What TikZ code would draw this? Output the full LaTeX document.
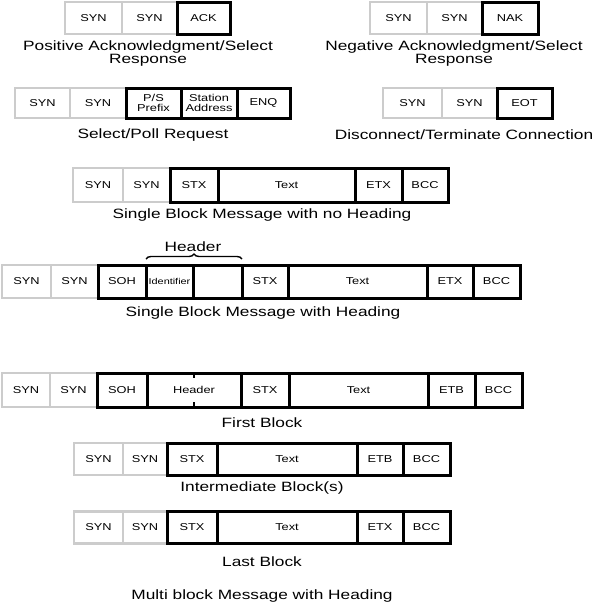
\documentclass[tikz,border=0pt]{standalone}
\usepackage{fontspec}
\setmainfont[FakeStretch=1.28]{Liberation Sans}
\usetikzlibrary{positioning,decorations.pathreplacing}
\definecolor{SynGray}{HTML}{CCCCCC}

\begin{document}
\begin{tikzpicture}[x=1pt,y=-1pt,
        cell/.style={minimum height=32pt,inner sep=0pt,outer sep=0pt,
                     font=\fontsize{10}{11}\selectfont},
        syn/.style={cell,draw=SynGray,line width=2.5pt},
        fld/.style={cell,draw=black,line width=3pt},
        twoline/.style={font=\fontsize{10}{10.5}\selectfont,align=center},
        small/.style={font=\fontsize{8.5}{10}\selectfont},
        caption/.style={font=\fontsize{13.5}{13}\selectfont,align=center,inner sep=0pt},
        hbrace/.style={decorate,decoration={brace,amplitude=5pt},line width=1.4pt}]
        \useasboundingbox (0,0) rectangle (600,603);
        % positive acknowledgment
        \node[syn,minimum width=57pt,anchor=west] (ack1) at (65,18) {SYN};
        \node[syn,minimum width=55pt,right=0pt of ack1] (ack2) {SYN};
        \node[fld,minimum width=53pt,right=0pt of ack2] (ack3) {ACK};
        \node[caption] (ackcap) at (148,53.5) {Positive Acknowledgment/Select\\Response};
        % negative acknowledgment
        \node[syn,minimum width=57pt,anchor=west] (nak1) at (370,18) {SYN};
        \node[syn,minimum width=55pt,right=0pt of nak1] (nak2) {SYN};
        \node[fld,minimum width=56pt,right=0pt of nak2] (nak3) {NAK};
        \node[caption] (nakcap) at (454,53.5) {Negative Acknowledgment/Select\\Response};
        % select/poll
        \node[syn,minimum width=55pt,minimum height=30pt,anchor=west] (sel1) at (15,103) {SYN};
        \node[syn,minimum width=56pt,minimum height=30pt,right=0pt of sel1] (sel2) {SYN};
        \node[fld,twoline,minimum width=55pt,minimum height=30pt,right=0pt of sel2] (sel3) {P/S\\Prefix};
        \node[fld,twoline,minimum width=56pt,minimum height=30pt,right=0pt of sel3] (sel4) {Station\\Address};
        \node[fld,minimum width=53pt,minimum height=30pt,right=0pt of sel4] (sel5) {ENQ};
        \node[caption] (selcap) at (153,135) {Select/Poll Request};
        % disconnect
        \node[syn,minimum width=59pt,minimum height=30pt,anchor=west] (eot1) at (383,103) {SYN};
        \node[syn,minimum width=55pt,minimum height=30pt,right=0pt of eot1] (eot2) {SYN};
        \node[fld,minimum width=55pt,minimum height=30pt,right=0pt of eot2] (eot3) {EOT};
        \node[caption] (eotcap) at (464,135) {Disconnect/Terminate Connection};
        % single block, no heading
        \node[syn,minimum width=50pt,minimum height=34pt,anchor=west] (snh1) at (73,185) {SYN};
        \node[syn,minimum width=47pt,minimum height=34pt,right=0pt of snh1] (snh2) {SYN};
        \node[fld,minimum width=48pt,minimum height=34pt,right=0pt of snh2] (snh3) {STX};
        \node[fld,minimum width=137pt,minimum height=34pt,right=0pt of snh3] (snh4) {Text};
        \node[fld,minimum width=47pt,minimum height=34pt,right=0pt of snh4] (snh5) {ETX};
        \node[fld,minimum width=46pt,minimum height=34pt,right=0pt of snh5] (snh6) {BCC};
        \node[caption] (snhcap) at (262,215) {Single Block Message with no Heading};
        % single block, with heading
        \node[syn,minimum width=49pt,minimum height=33pt,anchor=west] (swh1) at (2,281.5) {SYN};
        \node[syn,minimum width=47pt,minimum height=33pt,right=0pt of swh1] (swh2) {SYN};
        \node[fld,minimum width=48pt,minimum height=33pt,right=0pt of swh2] (swh3) {SOH};
        \node[fld,small,minimum width=47pt,minimum height=33pt,right=0pt of swh3] (swh4) {Identifier};
        \node[fld,minimum width=49pt,minimum height=33pt,right=0pt of swh4] (swh5) {};
        \node[fld,minimum width=46pt,minimum height=33pt,right=0pt of swh5] (swh6) {STX};
        \node[fld,minimum width=139pt,minimum height=33pt,right=0pt of swh6] (swh7) {Text};
        \node[fld,minimum width=46pt,minimum height=33pt,right=0pt of swh7] (swh8) {ETX};
        \node[fld,minimum width=47pt,minimum height=33pt,right=0pt of swh8] (swh9) {BCC};
        \draw[hbrace] ([yshift=6pt]swh4.north west) -- ([yshift=6pt]swh5.north east);
        \node[caption] (hdr) at (193,247) {Header};
        \node[caption] (swhcap) at (263,313) {Single Block Message with Heading};
        % multi block: first block
        \node[syn,minimum width=48pt,minimum height=34pt,anchor=west] (fb1) at (2,390) {SYN};
        \node[syn,minimum width=47pt,minimum height=34pt,right=0pt of fb1] (fb2) {SYN};
        \node[fld,minimum width=50pt,minimum height=34pt,right=0pt of fb2] (fb3) {SOH};
        \node[fld,minimum width=94pt,minimum height=34pt,right=0pt of fb3] (fb4) {Header};
        \node[fld,minimum width=48pt,minimum height=34pt,right=0pt of fb4] (fb5) {STX};
        \node[fld,minimum width=139pt,minimum height=34pt,right=0pt of fb5] (fb6) {Text};
        \node[fld,minimum width=47pt,minimum height=34pt,right=0pt of fb6] (fb7) {ETB};
        \node[fld,minimum width=47pt,minimum height=34pt,right=0pt of fb7] (fb8) {BCC};
        \draw[line width=1.5pt] (fb4.north) -- ([yshift=-5pt]fb4.north);
        \draw[line width=1.5pt] (fb4.south) -- ([yshift=5pt]fb4.south);
        \node[caption] (fbcap) at (262,423) {First Block};
        % intermediate block(s)
        \node[syn,minimum width=49pt,anchor=west] (ib1) at (74,459) {SYN};
        \node[syn,minimum width=44pt,right=0pt of ib1] (ib2) {SYN};
        \node[fld,minimum width=50pt,right=0pt of ib2] (ib3) {STX};
        \node[fld,minimum width=140pt,right=0pt of ib3] (ib4) {Text};
        \node[fld,minimum width=46pt,right=0pt of ib4] (ib5) {ETB};
        \node[fld,minimum width=47pt,right=0pt of ib5] (ib6) {BCC};
        \node[caption] (ibcap) at (262,488) {Intermediate Block(s)};
        % last block
        \node[syn,minimum width=49pt,anchor=west] (lb1) at (74,527.5) {SYN};
        \node[syn,minimum width=44pt,right=0pt of lb1] (lb2) {SYN};
        \node[fld,minimum width=50pt,right=0pt of lb2] (lb3) {STX};
        \node[fld,minimum width=140pt,right=0pt of lb3] (lb4) {Text};
        \node[fld,minimum width=46pt,right=0pt of lb4] (lb5) {ETX};
        \node[fld,minimum width=47pt,right=0pt of lb5] (lb6) {BCC};
        \node[caption] (lbcap) at (262,562) {Last Block};
        \node[caption] (mbcap) at (262,596) {Multi block Message with Heading};
      \end{tikzpicture}
\end{document}
